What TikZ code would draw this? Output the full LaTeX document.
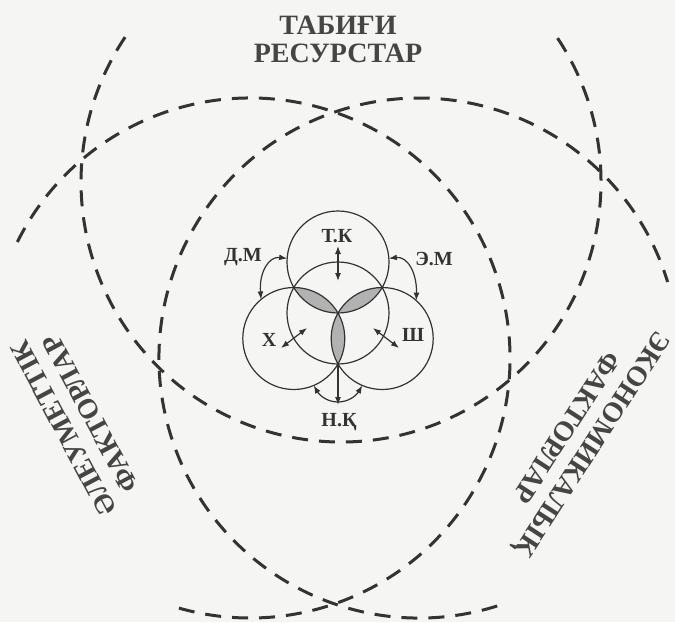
\documentclass[tikz,border=0pt]{standalone}
\usepackage{fontspec}
\setmainfont{Liberation Serif}
\usetikzlibrary{arrows.meta,calc}
\definecolor{ink}{HTML}{333333}
\definecolor{txt}{HTML}{454545}
\definecolor{paper}{HTML}{F5F5F3}
\begin{document}
\begin{tikzpicture}[x=1pt,y=1pt,yscale=-1,
  >={Latex[length=8pt,width=6pt]},
  bigdash/.style={draw=ink, line width=3pt, dash pattern=on 16pt off 11pt},
  smallc/.style={circle, draw=ink, line width=1.2pt, minimum size=102pt, inner sep=0pt, outer sep=0pt},
  arr/.style={draw=ink, line width=1.2pt},
  lens/.style={fill=black!30},
  big/.style={font=\fontsize{28}{28}\selectfont\bfseries, text=txt, align=center, inner sep=0pt},
  bigrot/.style={font=\fontsize{28}{31}\selectfont\bfseries, text=txt, align=center, inner sep=0pt},
  lbl/.style={font=\fontsize{20}{20}\selectfont\bfseries, text=ink, inner sep=0pt}]
\fill[paper] (0,0) rectangle (675,622);
\useasboundingbox (0,0) rectangle (675,622);

% big dashed circles
\coordinate (C1) at (341,182);
\coordinate (C2) at (250,358);
\coordinate (C3) at (419,358);
\draw[bigdash] ($(C1)+(-33.6:260)$) arc[start angle=-33.6, end angle=214.85, radius=260];
\draw[bigdash] ($(C2)+(-153.5:260)$) arc[start angle=-153.5, end angle=106.3, radius=260];
\draw[bigdash] ($(C3)+(-287.5:260)$) arc[start angle=-287.5, end angle=-17, radius=260];

% big labels
\node[big] (tr) at (338,39) {ТАБИҒИ\\РЕСУРСТАР};
\node[bigrot, rotate=118] (sf) at (77,421) {ӘЛЕУМЕТТІК\\ФАКТОРЛАР};
\node[bigrot, rotate=237] (ef) at (580,436) {ЭКОНОМИКАЛЫҚ\\ФАКТОРЛАР};

% small venn
\coordinate (O) at (338,313);
\coordinate (Tc) at (338,262);
\coordinate (Lc) at (293.8,338.5);
\coordinate (Rc) at (382.2,338.5);
\begin{scope}\clip (Tc) circle[radius=51]; \fill[lens] (Lc) circle[radius=51];\end{scope}
\begin{scope}\clip (Tc) circle[radius=51]; \fill[lens] (Rc) circle[radius=51];\end{scope}
\begin{scope}\clip (Lc) circle[radius=51]; \fill[lens] (Rc) circle[radius=51];\end{scope}
\node[smallc] (M) at (O) {};
\node[smallc] (T) at (Tc) {};
\node[smallc] (L) at (Lc) {};
\node[smallc] (R) at (Rc) {};

% labels and arrows
\node[lbl] (tk) at (337,236) {Т.К};
\coordinate (tka) at (338,246);
\coordinate (tkb) at (338,281);
\draw[arr,<->] (tka) -- (tkb);

\node[lbl] (dm) at (243,257) {Д.М};
\draw[arr,<->] (T.176) .. controls (269,256) and (259,272) .. (L.130);

\node[lbl] (em) at (434,259) {Э.М};
\draw[arr,<->] (T.4) .. controls (407,256) and (417,272) .. (R.48);

\node[lbl] (xx) at (269,340) {Х};
\coordinate (xa) at (281,348);
\coordinate (xb) at (307,328);
\draw[arr,<->] (xa) -- (xb);

\node[lbl] (sh) at (413,335) {Ш};
\coordinate (sha) at (373,328);
\coordinate (shb) at (399,348);
\draw[arr,<->] (sha) -- (shb);

\node[lbl] (nk) at (339,422) {Н.Қ};
\coordinate (nkb) at (338,405);
\coordinate (nkc) at (338,402);
\draw[arr,->] (M.270) -- (nkb);
\draw[arr,->] (nkc) .. controls (328,402) and (320,396) .. (L.293);
\draw[arr,->] (nkc) .. controls (348,402) and (356,396) .. (R.247);
\end{tikzpicture}
\end{document}
